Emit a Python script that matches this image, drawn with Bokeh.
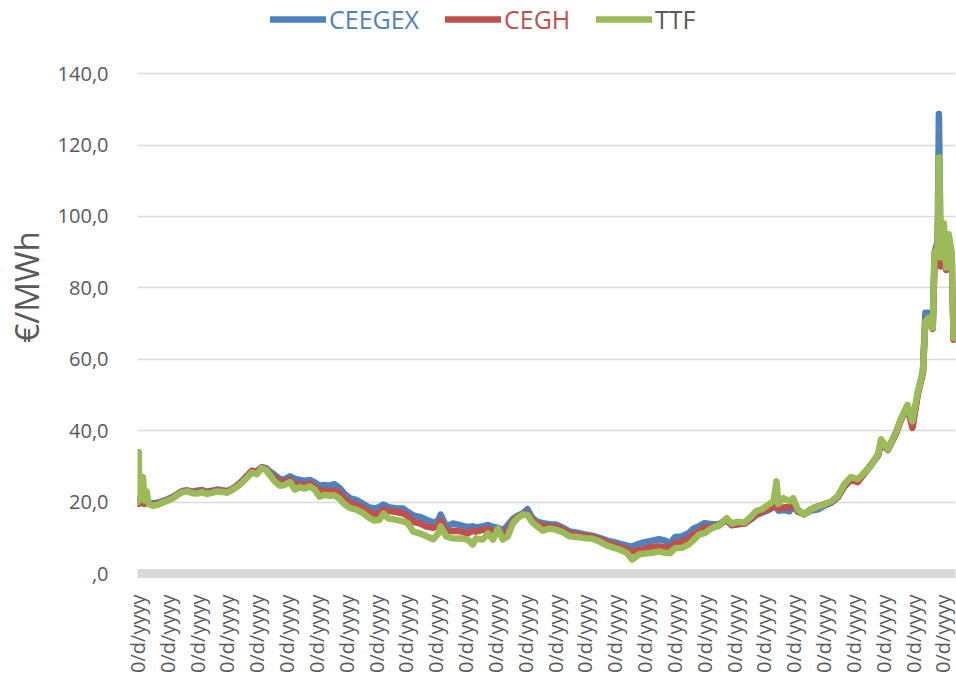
import math
from bokeh.plotting import figure
from bokeh.models import Range1d, FixedTicker, CustomJSTickFormatter, Legend, LegendItem
from bokeh.embed import file_html
from bokeh.resources import INLINE

# ---- data (day offset from series start, €/MWh) ----
day = [0, 2, 3, 6, 9, 11, 15, 18, 24, 32, 40, 49, 57, 65, 73, 81, 89, 97, 105, 113,
       121, 129, 138, 146, 154, 162, 170, 178, 186, 194, 202, 209, 215, 223, 231, 239, 248, 256, 264, 272,
       280, 288, 296, 304, 312, 320, 328, 337, 346, 356, 366, 375, 385, 393, 400, 408, 419, 432, 440, 448,
       460, 469, 481, 489, 493, 502, 513, 526, 537, 545, 550, 561, 570, 578, 586, 594, 602, 610, 618, 626,
       634, 642, 650, 659, 670, 680, 691, 702, 715, 728, 739, 751, 764, 775, 785, 796, 804, 815, 825, 837,
       848, 858, 866, 874, 885, 896, 904, 913, 922, 934, 945, 958, 966, 977, 987, 998, 1006, 1015, 1026, 1034,
       1039, 1042, 1050, 1060, 1066, 1074, 1084, 1095, 1107, 1116, 1128, 1139, 1149, 1160, 1171, 1181, 1192, 1204, 1209, 1220,
       1233, 1241, 1252, 1260, 1269, 1277, 1281, 1286, 1293, 1296, 1301, 1303, 1306, 1311, 1315, 1319, 1324, 1327]

ttf = [20.0, 34.0, 21.0, 25.0, 27.0, 20.5, 23.0, 19.5, 19.0, 19.2, 19.8, 20.4, 21.0, 22.0, 22.8, 23.0, 22.5, 22.4, 22.8, 22.3,
       22.6, 23.0, 22.8, 22.6, 23.4, 24.3, 25.4, 26.8, 28.3, 27.8, 29.5, 29.0, 27.6, 25.8, 24.6, 24.8, 25.6, 23.5, 24.2, 23.8,
       24.4, 23.5, 21.5, 22.0, 21.8, 21.9, 21.0, 19.3, 18.3, 17.9, 17.0, 15.8, 14.8, 15.0, 16.8, 15.4, 15.1, 14.6, 14.0, 11.8,
       11.2, 10.5, 9.6, 11.2, 13.2, 10.4, 9.8, 9.8, 9.5, 8.1, 9.8, 9.5, 11.2, 9.5, 12.6, 9.5, 10.4, 14.0, 15.5, 16.5,
       16.4, 14.3, 13.2, 12.0, 12.6, 12.3, 11.6, 10.4, 10.2, 9.9, 9.8, 9.0, 7.8, 7.2, 6.6, 5.7, 3.9, 5.3, 5.6, 5.8,
       6.2, 5.8, 5.7, 7.1, 7.2, 8.1, 9.3, 10.9, 11.3, 12.7, 13.4, 15.5, 14.0, 14.5, 14.3, 16.0, 17.5, 18.0, 19.3, 20.2,
       25.8, 19.5, 21.1, 20.2, 21.1, 17.8, 16.5, 17.9, 18.8, 19.3, 20.2, 21.8, 25.0, 27.0, 26.4, 28.1, 30.0, 33.4, 37.6, 34.8,
       39.5, 43.2, 47.2, 42.6, 51.0, 56.5, 70.5, 71.6, 68.8, 90.0, 91.0, 116.5, 88.5, 98.0, 85.7, 95.0, 89.5, 66.0]

cegh = [19.5, 21.0, 19.5, 20.5, 21.0, 19.5, 20.0, 19.5, 19.3, 19.5, 20.0, 20.6, 21.2, 22.2, 23.0, 23.1, 22.7, 22.8, 23.2, 22.6,
        23.0, 23.3, 23.1, 22.9, 23.6, 24.6, 25.8, 27.3, 28.7, 28.5, 29.7, 29.2, 28.0, 26.8, 25.8, 25.6, 26.3, 24.8, 25.0, 24.7,
        25.2, 24.3, 23.2, 23.2, 23.0, 23.3, 22.5, 21.0, 19.8, 19.2, 18.5, 17.3, 16.5, 16.9, 18.0, 17.5, 17.3, 16.8, 16.0, 14.5,
        14.0, 13.2, 12.8, 13.3, 14.8, 11.8, 12.0, 11.8, 11.2, 12.0, 11.7, 12.2, 12.5, 11.5, 12.2, 10.8, 12.0, 14.5, 15.8, 16.6,
        16.8, 14.9, 13.8, 13.4, 13.2, 13.0, 12.3, 11.2, 10.9, 10.5, 10.3, 9.6, 8.6, 8.0, 7.4, 6.8, 6.2, 6.5, 7.0, 7.5,
        7.6, 7.4, 7.0, 8.6, 8.8, 9.8, 11.0, 11.8, 12.8, 13.2, 13.4, 15.0, 13.6, 13.8, 14.0, 15.3, 16.5, 17.2, 18.0, 18.8,
        19.5, 18.2, 18.5, 18.6, 19.2, 17.3, 16.6, 18.0, 18.9, 19.4, 20.0, 21.5, 24.3, 26.2, 25.6, 27.8, 30.2, 33.0, 36.5, 34.6,
        39.0, 42.8, 46.8, 40.8, 50.5, 56.0, 70.8, 71.5, 68.5, 88.0, 92.0, 110.0, 86.0, 95.0, 85.0, 93.0, 88.0, 65.5]

ceegex = [19.8, 21.0, 19.8, 20.5, 21.0, 19.8, 20.0, 19.8, 19.6, 19.8, 20.2, 20.8, 21.4, 22.3, 23.1, 23.3, 22.9, 23.2, 23.4, 22.9,
          23.2, 23.5, 23.3, 23.1, 23.7, 24.7, 25.9, 27.4, 28.8, 28.6, 29.8, 29.5, 28.6, 27.6, 26.5, 26.3, 27.2, 26.5, 26.2, 25.9,
          26.2, 25.5, 24.6, 24.8, 24.6, 25.0, 24.0, 22.3, 21.0, 20.6, 19.6, 18.6, 18.2, 18.6, 19.3, 18.6, 18.3, 18.2, 17.2, 16.3,
          15.8, 15.1, 14.3, 14.8, 16.5, 13.2, 14.0, 13.5, 13.0, 13.2, 12.9, 13.2, 13.6, 13.0, 12.8, 12.0, 13.5, 15.2, 16.2, 16.8,
          18.0, 15.6, 14.5, 14.1, 13.8, 13.7, 12.9, 11.8, 11.4, 10.9, 10.6, 10.0, 9.2, 8.8, 8.3, 7.8, 7.5, 8.3, 8.8, 9.2,
          9.6, 9.2, 8.4, 10.2, 10.4, 11.3, 12.6, 13.2, 14.1, 13.8, 13.8, 15.0, 13.5, 13.9, 14.0, 15.3, 16.4, 17.0, 17.8, 18.5,
          19.0, 17.6, 17.8, 17.4, 18.8, 17.4, 16.6, 17.6, 18.0, 18.9, 19.8, 21.4, 24.5, 26.5, 25.8, 27.9, 30.3, 33.2, 36.8, 35.0,
          39.3, 43.0, 47.0, 41.2, 50.8, 56.5, 73.0, 73.0, 70.0, 90.0, 93.0, 128.7, 87.5, 96.5, 86.0, 94.0, 89.0, 65.8]

series = ["CEEGEX", "CEGH", "TTF"]
values = {"CEEGEX": ceegex, "CEGH": cegh, "TTF": ttf}
colors = {"CEEGEX": "#4F81BD", "CEGH": "#C0504D", "TTF": "#9BBB59"}
label_colors = {"CEEGEX": "#4F81BD", "CEGH": "#C0504D", "TTF": "#595959"}

y_ticks = [0, 20, 40, 60, 80, 100, 120, 140]
x_tick_label = "0/d/yyyy"
x_tick_count = 28
x_tick_step = 48.5
x_end = 1330
y_title = "€/MWh"

FONT = "Open Sans"
GRAY = "#595959"

# plot area: value axis 0..140 spans 499 px; the frame extends 73 px higher
# (empty headroom that holds the legend, no ticks/grid there)
PX_PER_UNIT = 499 / 140
y_top = 140 + 73 / PX_PER_UNIT

p = figure(width=956, height=675, output_backend="svg", toolbar_location=None,
           x_range=Range1d(0, x_end), y_range=Range1d(0, y_top),
           min_border_left=133, min_border_right=1, min_border_top=0, min_border_bottom=102,
           background_fill_color="white", border_fill_color="white")
p.outline_line_color = None

renderers = {}
for name in series:
    renderers[name] = p.line(day, values[name], line_color=colors[name], line_width=6.5,
                             line_join="round", line_cap="round")

# y axis
p.yaxis.ticker = FixedTicker(ticks=y_ticks)
p.yaxis.formatter = CustomJSTickFormatter(code="return tick === 0 ? ',0' : tick.toFixed(1).replace('.', ',');")
p.yaxis.axis_line_color = None
p.yaxis.major_tick_line_color = None
p.yaxis.minor_tick_line_color = None
p.yaxis.major_label_text_font = FONT
p.yaxis.major_label_text_font_size = "20px"
p.yaxis.major_label_text_color = GRAY
p.yaxis.major_label_standoff = 23
p.yaxis.axis_label = y_title
p.yaxis.axis_label_text_font = FONT
p.yaxis.axis_label_text_font_size = "33px"
p.yaxis.axis_label_text_font_style = "normal"
p.yaxis.axis_label_text_color = GRAY
p.yaxis.axis_label_standoff = 6

# x axis
p.xaxis.ticker = FixedTicker(ticks=[i * x_tick_step for i in range(x_tick_count)])
p.xaxis.formatter = CustomJSTickFormatter(code="return '%s';" % x_tick_label)
p.xaxis.major_label_orientation = math.pi / 2
p.xaxis.axis_line_color = "#D9D9D9"
p.xaxis.axis_line_width = 9
p.xaxis.major_tick_line_color = None
p.xaxis.minor_tick_line_color = None
p.xaxis.major_label_text_font = FONT
p.xaxis.major_label_text_font_size = "20px"
p.xaxis.major_label_text_color = GRAY
p.xaxis.major_label_standoff = 15

p.xgrid.grid_line_color = None
p.ygrid.grid_line_color = "#D9D9D9"
p.ygrid.grid_line_width = 1.5

legend_x = {"CEEGEX": 133, "CEGH": 308, "TTF": 459}
for name in series:
    lg = Legend(items=[LegendItem(label=name, renderers=[renderers[name]])],
                location=(legend_x[name], 537), orientation="horizontal",
                label_text_color=label_colors[name], label_text_font=FONT,
                label_text_font_size="25px", glyph_width=56, glyph_height=32,
                label_height=32, label_standoff=3, padding=0, margin=0, spacing=0,
                border_line_color=None, background_fill_alpha=0)
    p.add_layout(lg, "center")

open("out.html", "w").write(file_html(p, INLINE))
